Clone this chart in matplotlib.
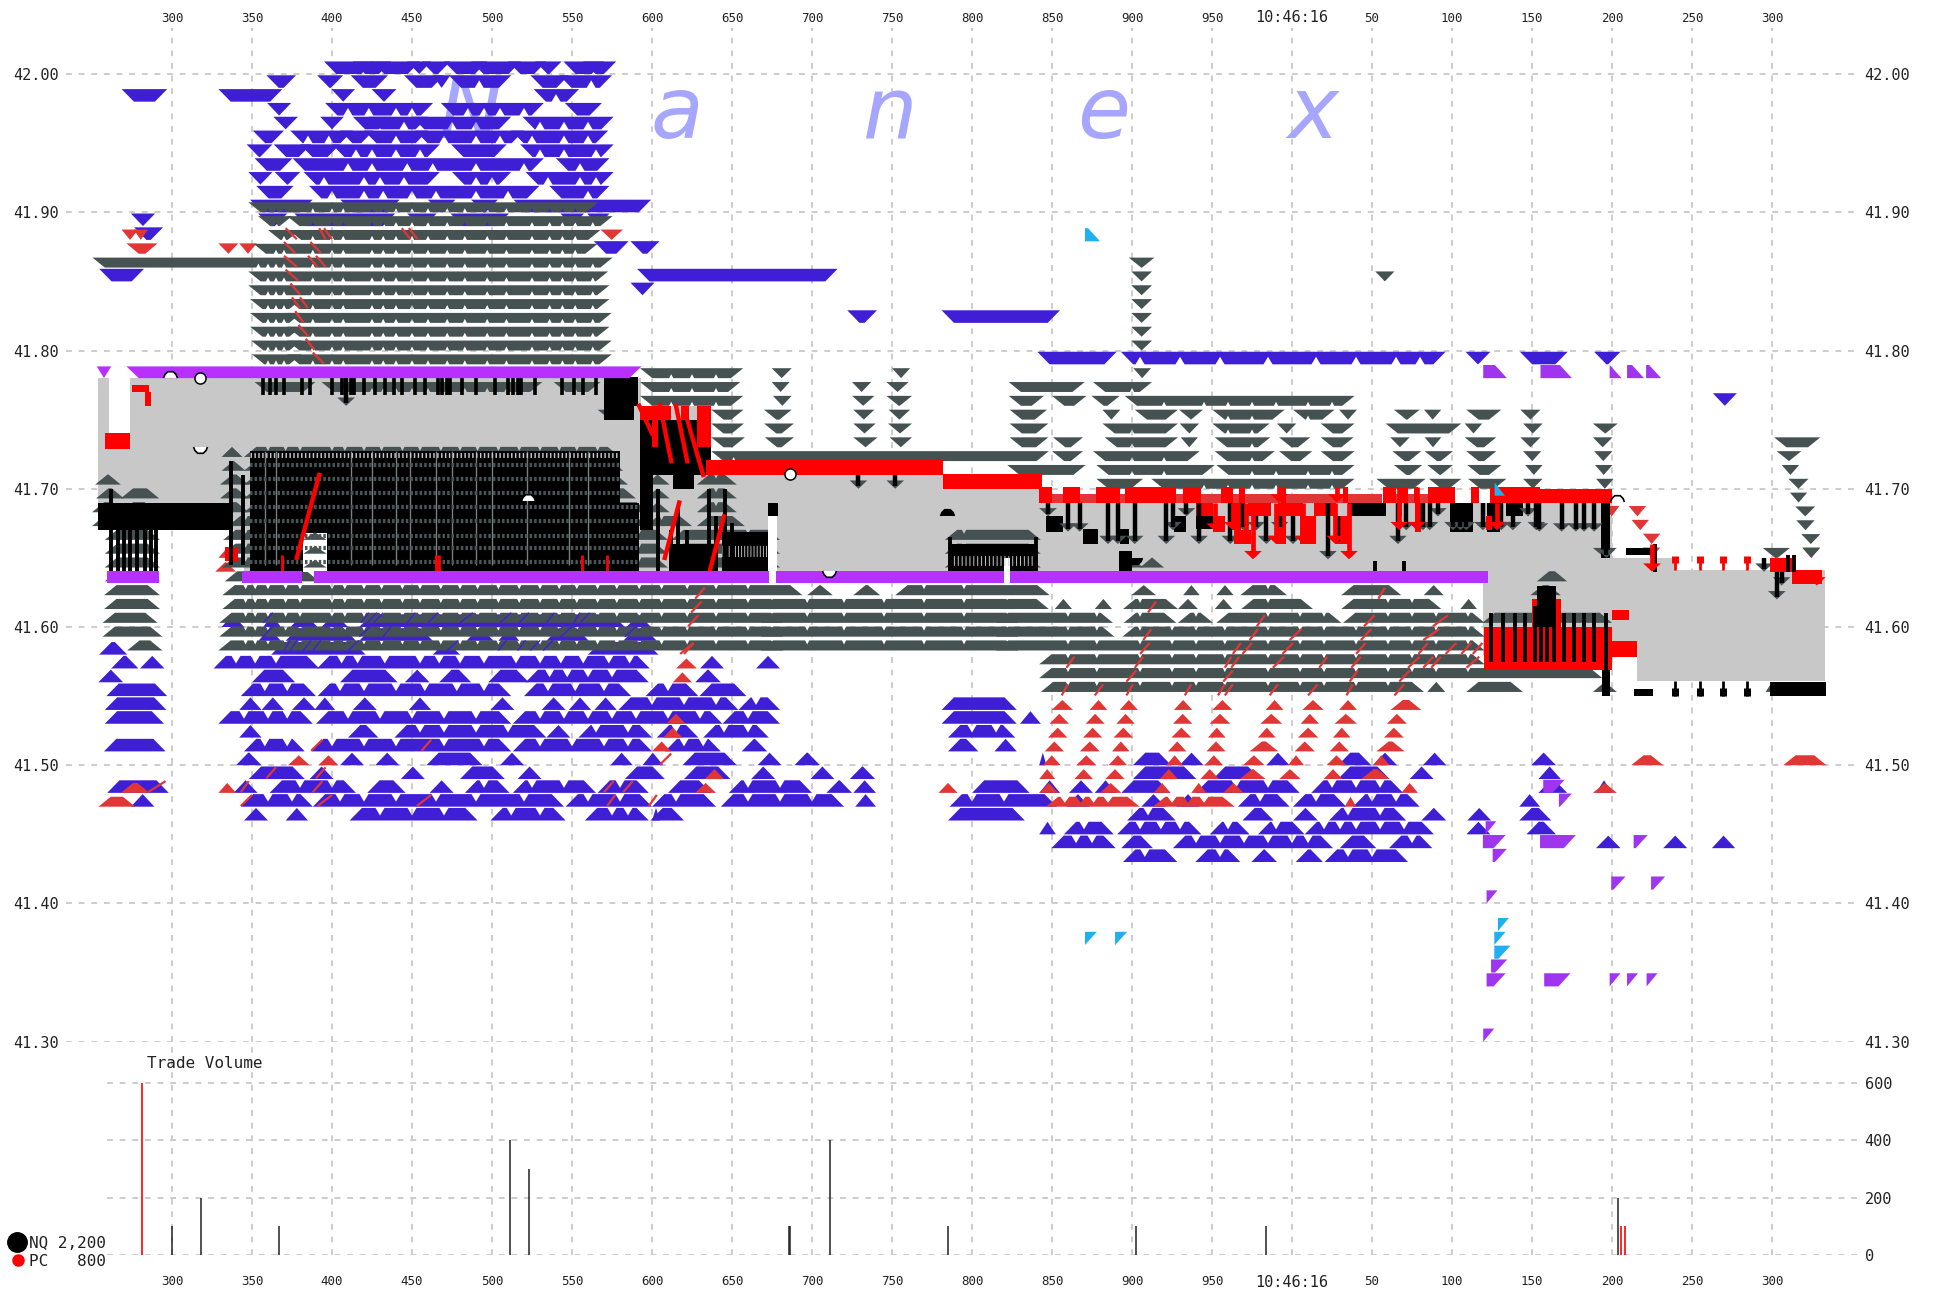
import matplotlib
matplotlib.use('Agg')
import matplotlib.pyplot as plt
from matplotlib.collections import PolyCollection
from matplotlib.patches import Rectangle

# Colors
BLUE = '#3f1fd6'
GREY = '#465252'
LRED = '#e03636'
RED = '#ff0000'
BAND = '#b830ff'
PURP = '#a035f0'
CYAN = '#20b0f0'
FILL = '#c8c8c8'
GRID = '#cccccc'
TXT = '#222222'
HW = 7.7

# Ticks
x_ticks = list(range(300, 1301, 50))
x_labels = ['300', '350', '400', '450', '500', '550', '600', '650', '700', '750', '800', '850', '900', '950',
            '10:46:16', '50', '100', '150', '200', '250', '300']
price_ticks = [41.30, 41.40, 41.50, 41.60, 41.70, 41.80, 41.90, 42.00]
vol_ticks = [0, 200, 400, 600]

# Trade volume
nq_x = [300, 318, 367, 511, 523, 685.5, 686.5, 711, 785, 902.5, 983.5, 1204]
nq_v = [100, 200, 100, 400, 300, 100, 100, 400, 100, 100, 100, 200]
pc_x = [281, 1205.8, 1207.9]
pc_v = [600, 100, 100]

# Bid/offer spread area
nbbo_x = [254, 345, 593, 634, 782, 844, 1119.5, 1200, 1215.7, 1239.6, 1333]
nbbo_ask = [41.78, 41.78, 41.76, 41.71, 41.70, 41.69, 41.69, 41.65, 41.65, 41.641, 41.641]
nbbo_bid = [41.67, 41.64, 41.64, 41.64, 41.64, 41.64, 41.58, 41.59, 41.561, 41.561, 41.561]

# Offer side triangles, price: outer extents in ms
blue_dn = {
    42.00: [(395, 426), (413, 437), (425, 455), (447, 462), (456, 474), (470, 497), (487, 518), (510, 534),
            (527, 543.5), (544.6, 570), (557, 577.6)],
    41.99: [(359, 377.5), (390.7, 407), (411.6, 435), (445, 470), (463, 474), (473, 512), (524, 548), (542, 575)],
    41.98: [(268.5, 297), (329, 369), (399.6, 414.4), (424.7, 440.3), (526, 554.4)],
    41.97: [(359.4, 374.5), (395.7, 463.2), (468, 532.4), (545.5, 568.7)],
    41.96: [(363.3, 378.7), (392.6, 407.4), (413, 437), (423, 460), (450, 512), (519, 576)],
    41.95: [(350.5, 370), (373.9, 413), (405, 426), (420, 460), (452, 520), (512, 572.6)],
    41.94: [(346.6, 362.8), (363.6, 387), (380, 405), (400, 467.4), (474.4, 509.2), (517.6, 576)],
    41.93: [(351.6, 375.3), (375.3, 532.4), (539.9, 573.4)],
    41.92: [(347.7, 362.8), (364.2, 380.1), (382.3, 467.4), (475, 512), (521, 576)],
    41.91: [(352.7, 376), (385.7, 529.6), (535.8, 573.4)],
    41.90: [(348.8, 387.9), (405.2, 442.3), (459.9, 477.2), (486.9, 503.7), (513.4, 599.4)],
    41.89: [(274.3, 289.4), (353.8, 372), (376.5, 439.5), (447, 465.4), (474, 510.6), (542.7, 557.5), (559.5, 573.4)],
    41.88: [(276.3, 294.4)],
    41.87: [(563.6, 585.4), (586.5, 604.7)],
    41.85: [(254.5, 282.5), (590.7, 716)],
    41.84: [(586.5, 601.6)],
    41.82: [(722, 740.6), (781, 855)],
    41.79: [(840.8, 890.4), (893, 1096), (1108.4, 1124), (1142.4, 1172.3), (1188.8, 1205.3)],
    41.76: [(1263, 1278)],
}
# White gaps seen along the tips of the blue rows
blue_dn_gaps = {
    42.00: [419, 432, 449, 465, 479, 492, 514, 530, 565],
    41.99: [425, 452, 460, 492, 534, 552, 562],
    41.98: [540],
    41.97: [410, 423, 440, 450, 458, 485, 495, 505, 520, 560],
    41.96: [430, 445, 475, 490, 505, 530, 545, 560],
    41.95: [385, 398, 440, 470, 490, 505, 525, 545, 560],
    41.94: [395, 415, 425, 440, 455, 480, 500, 530, 545, 565],
    41.93: [385, 410, 425, 447, 463, 490, 520, 555],
    41.92: [395, 420, 430, 445, 458, 490, 500, 535, 555, 565],
    41.91: [400, 420, 432, 450, 465, 490, 510, 560],
    41.79: [905, 930, 955, 985, 1015, 1040, 1065, 1080],
}
red_dn = {
    41.88: [(268.5, 279), (276, 285), (567.8, 581.8)],
    41.87: [(271.5, 291), (329, 341.5), (342, 353)],
    41.68: [(1195, 1204.6), (1210.4, 1221.3)],
    41.67: [(1212.2, 1223.1)],
    41.66: [(1219.3, 1230.2)],
    41.65: [(1219.3, 1230.2), (1319, 1330)],
}
grey_dn = {
    41.90: [(347.7, 566.4)],
    41.89: [(353.8, 375), (372, 575.4)],
    41.88: [(360, 380), (373, 567.8)],
    41.87: [(351, 566)],
    41.86: [(250.3, 575.4)],
    41.85: [(347.7, 572.6), (1052, 1064)],
    41.84: [(347.7, 573.4)],
    41.83: [(348.8, 381), (372, 573.4)],
    41.82: [(348.8, 381), (372, 574.8)],
    41.81: [(348.8, 381), (372, 573.4)],
    41.80: [(349.5, 381), (372, 574.8)],
    41.79: [(350, 381), (372, 574.8)],
    41.77: [(351.6, 389.7), (393.4, 531.5), (538.5, 567.8), (592.5, 655.2), (674.8, 686), (725, 737), (746.5, 760.4),
            (822.9, 870.4), (875.6, 912.5)],
    41.78: [(592.5, 657), (674.8, 687.3), (750, 761.3), (900.8, 911.9)],
    41.76: [(592.5, 657), (675.6, 687.3), (725, 739), (746.5, 762.5), (822.9, 845), (850, 871.5), (874.6, 892.3),
            (895.4, 1039.1)],
    41.75: [(566, 589), (637, 657.2), (670, 687.3), (725.8, 739), (747.9, 761.3), (823.5, 846.9), (881.5, 892.7),
            (901.7, 928.7), (929.4, 944.4), (950.2, 995.4), (1000.6, 1026.6), (1029.4, 1040.6), (1063.7, 1079.8),
            (1082.5, 1093.3), (1108.9, 1130.8), (1142.7, 1155.3)],
    41.74: [(637, 657.5), (670, 688.7), (725.8, 739.8), (747.5, 762.5), (823.5, 847.7), (881.5, 928.7), (929.8, 941.9),
            (950.2, 986), (990.6, 1002.7), (1017.9, 1039.1), (1058.5, 1105.8), (1107.9, 1118.9), (1144.4, 1156.6),
            (1188, 1203.6)],
    41.73: [(637, 658), (670.5, 688.7), (725.8, 741), (748.5, 762.5), (823.5, 847.7), (850.6, 869.4), (882.9, 928.7),
            (930.4, 941.2), (951.7, 986.4), (991.9, 1011.4), (1017.9, 1038.5), (1061.4, 1073.5), (1082.9, 1093.3),
            (1107.9, 1127.7), (1142.7, 1155.3), (1188, 1200.3), (1301.3, 1330.2)],
    41.72: [(637, 848), (850, 869.4), (875.6, 942.3), (951.7, 989.2), (991.9, 1012.7), (1017.9, 1039.1),
            (1062.7, 1080.8), (1082.9, 1100.6), (1108.9, 1127.7), (1144.4, 1155.8), (1188.8, 1200.3), (1302.9, 1318.3)],
    41.71: [(822, 871), (877.7, 951.7), (952.7, 1039.1), (1063.7, 1081.4), (1084.5, 1100.6), (1109.5, 1130.8),
            (1145.7, 1156.6), (1189.3, 1200.3), (1306, 1317)],
    41.70: [(877.7, 906.9), (912, 1039.1), (1052.7, 1083.5), (1085.6, 1105.8), (1110, 1134), (1144.4, 1156.6),
            (1190, 1201), (1310.2, 1322.8)],
    41.69: [(1311.2, 1322)],
    41.68: [(1314.5, 1327)],
    41.67: [(1315.2, 1326.6)],
    41.66: [(1318.3, 1330.2)],
    41.65: [(1294.2, 1311.2), (1319, 1330), (1188, 1203)],
}
# Column near 900 that stands above the quotes
for p in [41.86, 41.85, 41.84, 41.83, 41.82, 41.81, 41.80]:
    grey_dn.setdefault(p, []).append((898, 914) if p == 41.86 else (899.5, 912.5))

# Bid side triangles
grey_up = {
    41.72: [(331, 344), (345, 580)],
    41.71: [(331, 346), (345, 582)],
    41.70: [(252, 268), (330, 348), (345, 585), (596, 611), (628, 653)],
    41.69: [(252.5, 270), (268, 292), (330, 348), (345, 590), (596, 611), (628, 653)],
    41.68: [(250, 268), (268, 290.5), (330, 348), (345, 598), (596, 611), (628, 653)],
    41.67: [(250, 268), (258, 292), (335, 605), (596, 625), (628, 658)],
    41.66: [(258, 292.5), (332, 610), (612, 680), (783, 843)],
    41.65: [(258, 292.5), (332, 610), (612, 680), (783, 843)],
    41.64: [(258, 292.5), (331, 610), (612, 680), (783, 843), (892, 907), (905, 920)],
    41.63: [(258, 292.5), (333, 392), (1153, 1172)],
    41.62: [(257.6, 292.5), (331.5, 694), (697, 713), (725.8, 742.6), (752, 848.5), (899.6, 915), (931.9, 942.3),
            (952.7, 963.5), (967.7, 996.9), (1030.8, 1068.3), (1082.3, 1094.8), (1149, 1168)],
    41.61: [(257.6, 292.5), (331.5, 682), (668, 829), (815, 848), (851.7, 862.5), (876.7, 887.5), (894.4, 928.7),
            (928.7, 941.2), (951.7, 962.7), (968.3, 1013.1), (1030.8, 1093.3), (1105.2, 1115.6)],
    41.60: [(256.6, 291), (329.5, 682), (668, 829), (815, 888.1), (894.8, 927.7), (928.7, 950.6), (952.7, 1030.8),
            (1031.9, 1120.4), (1119, 1200)],
    41.59: [(256.6, 294), (329.5, 682), (668, 829), (815, 889), (894, 1120.4)],
    41.58: [(272, 294), (329, 682), (668, 829), (815, 1120.4)],
    41.57: [(842, 1120.4)],
    41.56: [(842, 1194)],
    41.55: [(843, 1082.5), (1084.5, 1095.8), (1108.9, 1144.3), (1188, 1203), (1296, 1304)],
}
blue_up = {
    41.60: [(331, 345), (357, 368), (374, 391), (393.4, 410), (417, 583), (584, 599.4)],
    41.59: [(354, 368), (371, 415), (417, 463), (484, 501), (504, 517), (534, 560.5), (582, 603)],
    41.58: [(254.5, 272), (362, 421), (463, 480), (560, 604)],
    41.57: [(262, 279), (280, 295.3), (326, 392), (390.7, 598.6), (630, 645), (665, 680)],
    41.56: [(254, 269.5), (350, 377), (405, 441), (445.5, 461), (467, 487), (497.6, 523), (521, 598), (627, 643)],
    41.55: [(259, 297), (343, 390), (391, 512), (520, 587), (596, 629), (629.6, 659)],
    41.54: [(258, 296.5), (342, 356), (356, 370), (375, 390), (389, 402), (413, 428), (448, 462), (499, 514), (531, 546),
            (548, 562), (564, 578), (579, 654), (654, 680), (781, 828)],
    41.53: [(258, 295), (329, 388), (390, 512), (513, 644), (644, 680), (781, 828), (830, 843)],
    41.52: [(342, 356), (410, 429), (439, 534), (534, 549), (554, 600), (603, 629), (632, 673), (785, 827)],
    41.51: [(257.5, 296), (345, 383), (387, 512), (513, 600), (608, 643), (656, 672), (785, 804), (814, 828)],
    41.50: [(340, 356), (405, 420), (427, 442), (459, 494), (505, 520), (574, 588), (594, 607), (619, 653), (666, 681),
            (689, 705), (842, 846.5), (900.6, 924.5), (929.7, 944.7), (984, 998.4), (1028.7, 1049.5), (1050.6, 1065.6),
            (1081.8, 1096.4), (1149.5, 1165)],
    41.49: [(348, 383), (386, 401), (443, 458), (480, 508), (516, 531), (583, 608), (620, 649), (662, 677), (699, 714),
            (723.6, 739.5), (900.6, 940.2), (950.6, 980.2), (1028.7, 1061), (1073.5, 1088.5), (1154, 1168)],
    41.48: [(259.5, 298), (338.5, 353.5), (361, 415), (422, 446), (461, 476), (483, 511), (513, 565), (566, 598),
            (610, 637), (648, 700), (709, 725), (725.8, 740), (800, 836), (842, 855), (860.6, 875.6), (876.7, 890.2),
            (893.3, 924), (939.8, 1004.8), (1012, 1069.4), (1154, 1172)],
    41.47: [(274.3, 289), (343, 388), (388, 545), (546, 600), (600, 640), (643, 720), (727, 740), (786, 853),
            (858.9, 873.5), (905.8, 921), (927.7, 942.3), (966.2, 998.5), (1000.6, 1033.9), (1038.1, 1079.8),
            (1142, 1155)],
    41.46: [(345, 360), (371, 385), (411, 491), (499, 546), (558, 598), (599, 620), (600, 605), (785, 833),
            (896.9, 927.3), (969, 988.5), (1000.6, 1016.2), (1023.1, 1071.4), (1080.8, 1096.4), (1109.5, 1124.5),
            (1142, 1162)],
    41.45: [(842, 852.4), (857.4, 888.6), (890.7, 943.4), (948.6, 973.5), (978.7, 1007.9), (1007.9, 1088.7),
            (1109, 1124), (1146.5, 1165)],
    41.44: [(849.6, 889.8), (893.3, 913.1), (925.6, 1025.6), (1029.8, 1052.7), (1060.6, 1087.7), (1190, 1205.3),
            (1232, 1247), (1262.4, 1277)],
    41.43: [(894.4, 928.3), (939.6, 967.7), (974.6, 990.6), (1002.3, 1019.3), (1020.4, 1072.5)],
}
blue_up[41.48].append((1190, 1200))
blue_up_gaps = {
    41.57: [340, 352, 365, 399, 406, 416, 433, 455, 467, 480, 495, 515, 530, 543, 557, 573, 586],
    41.56: [536, 547, 560, 575],
    41.55: [358, 372, 405, 420, 440, 458, 478, 495, 535, 552, 570, 610],
    41.54: [600, 620, 640, 665],
    41.53: [345, 360, 372, 410, 430, 450, 470, 490, 530, 545, 560, 575, 590, 610, 630, 660],
    41.52: [455, 470, 490, 510, 525, 565, 585, 615, 645, 660, 800, 815],
    41.51: [358, 372, 400, 420, 440, 470, 495, 530, 550, 570, 585, 620, 632],
    41.48: [380, 400, 495, 525, 545, 580, 660, 680, 950, 965, 985, 1025, 1040, 1055],
    41.47: [360, 375, 405, 420, 440, 465, 490, 520, 560, 580, 615, 660, 680, 700, 800, 820, 980, 1015, 1050, 1065],
    41.46: [430, 450, 470, 512, 530, 575, 585, 910, 1035, 1055],
    41.45: [870, 905, 918, 930, 960, 990, 1020, 1030, 1040, 1055, 1070],
    41.44: [865, 875, 940, 955, 970, 985, 1000, 1010, 1040, 1075],
    41.43: [908, 955, 1035, 1050],
}
red_up = {
    41.65: [(329, 340)],
    41.64: [(327, 340)],
    41.57: [(615, 628)],
    41.56: [(613, 625)],
    41.54: [(849.8, 863.1), (873.5, 884.6), (892.3, 903.7), (926.2, 937.7), (950.2, 962.7), (983.5, 994.7),
            (1006.4, 1019.8), (1029.4, 1040.6), (1061.6, 1080.8)],
    41.53: [(848.5, 860.6), (871, 882.9), (890.2, 901.7), (925.6, 937.7), (948.5, 961.4), (980.2, 993.9),
            (1005.4, 1016.9), (1026.6, 1040.6), (1059.3, 1071.8), (609, 621)],
    41.52: [(847.5, 859.6), (869.4, 881.4), (888.5, 900.6), (924.6, 937.1), (947.5, 958.5), (978.7, 989.8),
            (1003.7, 1016.4), (1025.6, 1036.6), (1057.5, 1069.8), (607, 619)],
    41.51: [(845.4, 857.5), (867.4, 879.9), (887.5, 898.5), (922.5, 934), (946.5, 958.5), (973.5, 991.4),
            (1001.6, 1014.3), (1023.5, 1035.6), (1052.7, 1070.4), (600, 612)],
    41.50: [(844.3, 855.4), (865.2, 877.7), (885.4, 896.9), (921.4, 931.9), (945.4, 956.9), (969.4, 982.9),
            (997.5, 1007.5), (1021.6, 1034), (1050.6, 1061), (372.5, 386), (391.5, 404), (1212, 1232), (1307, 1334)],
    41.49: [(842, 852), (864, 875.6), (883.3, 895.4), (917.3, 928.7), (942.7, 954.4), (967.3, 983.5), (992, 1005.4),
            (1019.8, 1031.5), (1043.3, 1061), (633, 645)],
    41.48: [(268, 286), (329, 340), (779, 791), (842, 854), (880, 893.3), (913.6, 924), (937, 946.4), (956.9, 969.8),
            (1068.3, 1078.7), (627, 640), (1188, 1203)],
    41.47: [(254, 277), (846.2, 904.8), (913.1, 964.2), (1032.9, 1040.2)],
}
red_up_gaps = {41.47: [858, 868, 876, 885, 895, 925, 935, 945, 955]}

# Right angle triangles
purple_flag = [(41.45, 1121, 1127.7), (41.44, 1119.3, 1133.5), (41.44, 1155, 1177.4), (41.44, 1213.5, 1222.3),
               (41.43, 1125.4, 1134.3), (41.41, 1199.5, 1208.4), (41.41, 1224.4, 1233.2), (41.40, 1121.6, 1128.4),
               (41.35, 1124.4, 1134.5), (41.34, 1121.6, 1133.5), (41.34, 1157.6, 1174), (41.34, 1198.5, 1205.3),
               (41.34, 1209.4, 1216.2), (41.34, 1221.6, 1228.4), (41.30, 1119.5, 1126.4), (41.48, 1157, 1170.3),
               (41.47, 1166.8, 1174.9)]
cyan_flag = [(41.38, 1128.7, 1135.5), (41.37, 1126.4, 1133.5), (41.36, 1126.4, 1136.5), (41.37, 870.6, 878),
             (41.37, 889.4, 897)]
purple_up = [(41.78, 1119.5, 1134.3), (41.78, 1155.3, 1174.9), (41.78, 1198.5, 1206), (41.78, 1209.4, 1220),
             (41.78, 1221.3, 1230.7)]
cyan_up = [(41.879, 870.6, 880), (41.695, 1126.6, 1133)]

# Thin slanted trades across the rows: price, x at bottom, x at top
red_slash = [(41.88, 378, 371), (41.88, 396, 392), (41.88, 400, 395), (41.88, 449, 443.6), (41.88, 453.5, 448),
             (41.87, 377, 370), (41.87, 393, 386.5), (41.86, 378, 370), (41.86, 391, 385), (41.86, 396, 390),
             (41.85, 379, 371), (41.84, 380, 374), (41.83, 380, 375), (41.83, 385, 380), (41.82, 382, 377),
             (41.81, 385, 379), (41.80, 389, 383.6), (41.79, 395, 388),
             (41.62, 627, 633), (41.61, 624.5, 631), (41.60, 622.6, 629), (41.58, 617.6, 626), (41.58, 620, 626),
             (41.62, 1054, 1058), (41.61, 910, 915), (41.60, 978, 983), (41.60, 1045, 1051.6), (41.60, 1088, 1097.5),
             (41.59, 907, 912), (41.59, 973.5, 978.7), (41.59, 998.5, 1005.8), (41.59, 1043, 1049.5),
             (41.59, 1082, 1092), (41.58, 905, 911), (41.58, 963, 968), (41.58, 969, 975), (41.58, 994, 1000.6),
             (41.58, 1040, 1046), (41.58, 1079, 1085), (41.58, 1096, 1102.7), (41.58, 1105.8, 1112), (41.58, 1113, 1119),
             (41.57, 859, 864), (41.57, 901.7, 907), (41.57, 958, 962), (41.57, 962, 967), (41.57, 988, 995),
             (41.57, 1017, 1022), (41.57, 1037, 1043), (41.57, 1072.5, 1079.8), (41.57, 1082, 1088.3), (41.57, 1087, 1093),
             (41.57, 1109, 1117), (41.56, 896.5, 902.7), (41.56, 957, 963), (41.56, 1036, 1041.2), (41.56, 1067, 1073.5),
             (41.55, 856, 860), (41.55, 876.7, 882), (41.55, 896.5, 900.6), (41.55, 933, 937), (41.55, 953.7, 958),
             (41.55, 958, 963), (41.55, 986, 991.2), (41.55, 1010, 1016), (41.55, 1034, 1038), (41.55, 1064, 1070),
             (41.51, 387, 394), (41.51, 456, 462), (41.50, 605, 612), (41.49, 359, 365), (41.49, 390, 396),
             (41.48, 285, 296), (41.48, 343, 348), (41.48, 388, 394), (41.48, 570, 576), (41.48, 582, 588),
             (41.47, 343, 350), (41.47, 391, 400), (41.47, 453, 462), (41.47, 572, 577), (41.47, 598, 603)]
blue_slash = [(41.60, 357, 363), (41.60, 418, 423), (41.60, 422, 428), (41.60, 426, 432), (41.60, 447, 452),
              (41.60, 460, 466), (41.60, 480, 488), (41.60, 505, 512), (41.60, 517, 523), (41.60, 534, 539),
              (41.60, 551, 555), (41.60, 555, 561), (41.59, 357, 363), (41.59, 417, 424), (41.59, 432, 437),
              (41.59, 543, 550), (41.59, 583, 590), (41.58, 370, 374), (41.58, 374, 378), (41.58, 382, 387),
              (41.58, 388, 393), (41.58, 410, 417), (41.58, 472, 479), (41.58, 504, 509), (41.58, 516, 521),
              (41.58, 524, 530), (41.58, 532, 538)]

# Small gaps along the tips of long grey runs
notch_dn = [354, 360, 365, 370, 388, 400, 407, 425, 432, 440, 450, 460, 472, 483, 497, 509, 525, 536, 544, 552, 563,
            600, 612, 625, 640, 651, 900, 920, 945, 960, 975, 990, 1010, 1025]
notch_up = [338, 346, 352, 360, 371, 380, 400, 408, 420, 431, 444, 455, 468, 480, 491, 504, 517, 530, 542, 553, 566,
            578, 592, 606, 622, 640, 660, 697, 720, 745, 770, 795, 860, 878, 905, 925, 940, 958, 985, 1005, 1020,
            1040, 1060, 1075, 1090, 1110]

# Black size stacks drawn over the spread: x0, x1, p0, p1
black_box = [(254, 338, 41.67, 41.69), (349, 580, 41.64, 41.727), (580, 592, 41.64, 41.69), (569.7, 591.5, 41.76, 41.781),
             (570, 589, 41.75, 41.76), (592.5, 637, 41.71, 41.75), (592.5, 600.8, 41.67, 41.71), (613, 626, 41.70, 41.71),
             (610.6, 640, 41.64, 41.66), (644, 672.8, 41.64, 41.669), (672.8, 679, 41.68, 41.69),
             (786, 840, 41.64, 41.66), (846.5, 856.9, 41.669, 41.68), (869.4, 878.7, 41.66, 41.671),
             (892.3, 898, 41.66, 41.671), (926, 934, 41.669, 41.68), (940, 950.6, 41.671, 41.68),
             (1035, 1059, 41.68, 41.69), (1098.5, 1113, 41.669, 41.69), (1122, 1130, 41.669, 41.69),
             (1134, 1144.5, 41.68, 41.69), (1193, 1199, 41.65, 41.69), (1208.6, 1225.6, 41.652, 41.657),
             (1153.3, 1164.7, 41.60, 41.63), (1194, 1199, 41.55, 41.60), (1214, 1225.6, 41.55, 41.555),
             (1298.5, 1334, 41.55, 41.56), (892, 900, 41.64, 41.655)]
red_box = [(258, 273.7, 41.729, 41.7405), (275, 285.4, 41.77, 41.775), (283, 287, 41.76, 41.77), (333, 341, 41.648, 41.658),
           (634, 782, 41.71, 41.7208), (782, 844, 41.70, 41.7105), (842, 850, 41.69, 41.7015), (856.9, 867.3, 41.69, 41.7015),
           (877.7, 892.3, 41.69, 41.7015), (895.4, 927.3, 41.69, 41.7015), (931.9, 943.3, 41.69, 41.7015),
           (955.8, 963, 41.69, 41.7015), (966.9, 970.4, 41.69, 41.7015), (993, 996.4, 41.69, 41.7015),
           (1031.8, 1035, 41.69, 41.7015), (1056.8, 1065.1, 41.69, 41.7015), (1066.8, 1072.5, 41.69, 41.7015),
           (1076, 1078.7, 41.69, 41.7015), (1085, 1101.6, 41.69, 41.7015), (1112, 1117, 41.69, 41.7015),
           (1123.5, 1155, 41.69, 41.7015), (1155, 1172, 41.69, 41.7), (1172, 1200, 41.69, 41.7),
           (940, 950.6, 41.68, 41.69), (972.5, 987, 41.68, 41.69), (991, 1007, 41.68, 41.69), (1014, 1027.7, 41.68, 41.69),
           (950.6, 957.9, 41.669, 41.68), (961, 968.3, 41.67, 41.69), (964, 974.6, 41.66, 41.67),
           (990, 996.4, 41.66, 41.68), (1004.8, 1015.2, 41.66, 41.68), (1026.6, 1035, 41.66, 41.68),
           (1076.6, 1080.8, 41.669, 41.69), (1066, 1069, 41.68, 41.69), (1121.4, 1125, 41.67, 41.68),
           (1120, 1200, 41.569, 41.60), (1197.7, 1215.5, 41.578, 41.59), (1150, 1153.3, 41.60, 41.62),
           (1164.7, 1168, 41.60, 41.62), (1200, 1210.4, 41.605, 41.612), (1298.5, 1314, 41.64, 41.65),
           (1312.7, 1331, 41.631, 41.641), (592.5, 612, 41.75, 41.76), (618, 623, 41.75, 41.76), (628, 637, 41.73, 41.76),
           (600, 604, 41.73, 41.75)]
lred_box = [(850, 1035, 41.69, 41.696), (1035, 1056, 41.69, 41.696), (1059, 1085, 41.69, 41.696)]
white_box = [(260.4, 273.5, 41.735, 41.792), (672.8, 678.4, 41.64, 41.68), (820, 824, 41.64, 41.65),
             (382, 396.7, 41.64, 41.668)]

# Arrows: x, price at top, price at tip
black_arrow = [(847.5, 41.69, 41.68), (860, 41.69, 41.669), (867.3, 41.69, 41.669), (885, 41.69, 41.66), (891.2, 41.69, 41.66),
               (901.7, 41.69, 41.66), (921.4, 41.69, 41.66), (925.6, 41.69, 41.67), (934, 41.69, 41.68), (941.9, 41.69, 41.66),
               (961.4, 41.69, 41.66), (969.4, 41.69, 41.67), (977.7, 41.68, 41.67), (984, 41.68, 41.66), (992.3, 41.68, 41.67),
               (1000.6, 41.68, 41.66), (1022.5, 41.69, 41.649), (1028.7, 41.68, 41.66), (1066.2, 41.69, 41.66),
               (1071.4, 41.69, 41.67), (1081.8, 41.69, 41.67), (1086, 41.69, 41.67), (1091.2, 41.69, 41.68),
               (1100.6, 41.69, 41.67), (1105.2, 41.69, 41.67), (1108.9, 41.69, 41.67), (1119.3, 41.69, 41.67),
               (1130.8, 41.69, 41.67), (1138, 41.69, 41.67), (1147.5, 41.69, 41.68), (1152.7, 41.69, 41.67),
               (1154.6, 41.69, 41.669), (1168.5, 41.69, 41.669), (1177.4, 41.69, 41.669), (1182.5, 41.69, 41.669),
               (1188.8, 41.69, 41.669), (729, 41.71, 41.70), (752, 41.71, 41.70), (408.8, 41.78, 41.76),
               (1295, 41.65, 41.64), (1303, 41.64, 41.62), (1306, 41.64, 41.63), (1196.5, 41.69, 41.65)]
red_arrow = [(975.6, 41.69, 41.649), (1035.6, 41.69, 41.649), (971, 41.69, 41.66), (963, 41.69, 41.67), (952, 41.69, 41.669),
             (992, 41.7015, 41.69), (1028, 41.7015, 41.69), (1078, 41.7015, 41.67), (990, 41.69, 41.66), (1007, 41.69, 41.66),
             (1027, 41.69, 41.66), (1067, 41.7015, 41.67), (1128, 41.69, 41.67), (1225, 41.66, 41.64), (1328, 41.64, 41.63)]
red_tick = [1239.6, 1254.8, 1269.5, 1284.5]
stem_ms = [357, 361, 365, 370, 381, 386, 400, 406, 409, 412, 414, 420, 427, 433, 439, 444, 452, 458, 466, 469, 472,
           474, 481, 490, 502, 510, 513, 516, 518, 527, 544, 551, 557, 565]

# Upright black stacks: x, price at bottom, price at top
up_stems = [(262, 41.64, 41.70), (266, 41.64, 41.69), (270, 41.64, 41.68), (274, 41.64, 41.68), (278, 41.64, 41.68),
            (283, 41.64, 41.68), (287, 41.64, 41.68), (290, 41.64, 41.67), (337, 41.645, 41.72), (344.6, 41.645, 41.71),
            (603.6, 41.64, 41.70), (612, 41.64, 41.67), (616, 41.64, 41.685), (622, 41.64, 41.67), (635.7, 41.64, 41.70),
            (640, 41.64, 41.68), (645.5, 41.64, 41.70), (650, 41.64, 41.675), (786, 41.64, 41.665), (840, 41.64, 41.665),
            (1124.1, 41.575, 41.61), (1131.7, 41.575, 41.61), (1139.3, 41.575, 41.61), (1145.7, 41.575, 41.61),
            (1152, 41.575, 41.615), (1155.8, 41.575, 41.615), (1159.6, 41.575, 41.615), (1163.5, 41.575, 41.615),
            (1169.8, 41.575, 41.61), (1176, 41.575, 41.61), (1182.5, 41.575, 41.61), (1188.8, 41.575, 41.61),
            (1196.4, 41.56, 41.61), (1227, 41.64, 41.66), (1052, 41.64, 41.648), (1070, 41.64, 41.648),
            (1310, 41.652, 41.64), (1314, 41.652, 41.64)]
gap_ms = [425, 449, 465, 475, 490, 500, 522, 548, 412, 365, 358, 440, 560]

# Bright red trades sweeping through the stacks: x0, p0, x1, p1
red_sweep = [(378, 41.65, 392, 41.71), (608, 41.65, 617, 41.69), (636, 41.64, 645, 41.68), (605, 41.76, 612, 41.72),
             (615, 41.76, 622, 41.72), (622, 41.75, 632, 41.71), (592, 41.76, 600, 41.74)]
red_spike = [369, 465, 467, 556, 572]

# Open and filled quote change marks: x, price
white_dome = [(299, 41.783), (522.5, 41.694), (1203, 41.693)]
white_bowl = [(317.5, 41.728), (710.5, 41.638)]
white_dot = [(317.5, 41.78), (686, 41.711)]
black_dome = [(784.4, 41.683)]
black_bowl = [(901.6, 41.648)]

# Watermark
mark_letters = ['N', 'a', 'n', 'e', 'x']
mark_x = [487, 615.6, 748.8, 882.5, 1013]

fig = plt.figure(figsize=(19.38, 12.91), dpi=100, facecolor='white')
W, H = 1938.0, 1291.0
ax = fig.add_axes([66 / W, 1 - 1041.7 / H, (1857 - 66) / W, (1041.7 - 28) / H])
av = fig.add_axes([66 / W, 1 - 1255 / H, (1857 - 66) / W, (1255 - 1041.7) / H])
ax.set_xlim(233.75, 1353.1)
ax.set_ylim(41.30, 42.0333)
av.set_xlim(233.75, 1353.1)
av.set_ylim(0, 742)
for a in (ax, av):
    for s in a.spines.values():
        s.set_visible(False)
    a.set_axisbelow(True)
    a.grid(axis='x', color=GRID, lw=1.4, ls=(0, (3, 3.5)))
ax.grid(axis='y', color=GRID, lw=1.4, ls=(0, (3, 3.5)))
av.hlines(vol_ticks, 259.4, 1353.1, color=GRID, lw=1.4, ls=(0, (3, 3.5)), zorder=0.5)


def run_poly(p, a, b, up, lo, hi, small=(), large=()):
    # one run of overlapping triangles as a single polygon, gaps cut into the tip side
    hw = min(HW, (b - a) / 2.0)
    y0, y1 = p + lo, p + hi
    tip = y1 if up else y0
    sign = -1 if up else 1
    gaps = [(n, 1.3, 0.4) for n in small if a + hw + 1.5 < n < b - hw - 1.5]
    gaps += [(n, 2.8, 0.6) for n in large if a + hw + 3 < n < b - hw - 3]
    v = [(a, y0), (b, y0), (b - hw, y1)] if up else [(a, y1), (b, y1), (b - hw, y0)]
    for n, w, d in sorted(gaps, reverse=True):
        v += [(n + w, tip), (n, tip + sign * (hi - lo) * d), (n - w, tip)]
    v += [(a + hw, tip)]
    return v


def add_rows(rows, color, up, lo, hi, small=(), row_gaps=None, z=3):
    row_gaps = row_gaps or {}
    polys = []
    for p, runs in rows.items():
        for a, b in runs:
            polys.append(run_poly(p, a, b, up, lo, hi, small, row_gaps.get(p, ())))
    ax.add_collection(PolyCollection(polys, facecolors=color, edgecolors='none', zorder=z))


def add_flags(flags, color, up, z=5):
    polys = []
    for p, a, b in flags:
        s = min(7.5, b - a)
        if up:
            polys.append([(a, p), (b, p), (b - s, p + 0.0095), (a, p + 0.0095)])
        else:
            polys.append([(a, p + 0.0095), (b, p + 0.0095), (b - s, p), (a, p)])
    ax.add_collection(PolyCollection(polys, facecolors=color, edgecolors='none', zorder=z))


def add_boxes(boxes, color, z):
    for x0, x1, p0, p1 in boxes:
        ax.add_patch(Rectangle((x0, p0), x1 - x0, p1 - p0, fc=color, ec='none', zorder=z))


# Watermark under everything
for ch, x in zip(mark_letters, mark_x):
    ax.text(x, 41.9537, ch, fontsize=62, style='italic', family='DejaVu Sans', color='#a6a6ff', ha='center',
            va='baseline', zorder=1)

ax.fill_between(nbbo_x, nbbo_bid, nbbo_ask, step='post', color=FILL, lw=0, zorder=1.5)
add_boxes(white_box[:1], 'white', 1.6)

add_rows(blue_dn, BLUE, False, 0.0, 0.0091, row_gaps=blue_dn_gaps, z=2)
add_rows(blue_up, BLUE, True, 0.0, 0.0091, row_gaps=blue_up_gaps, z=2)
add_rows(red_dn, LRED, False, 0.0, 0.0075, z=2.5)
add_rows(red_up, LRED, True, 0.0, 0.0072, row_gaps=red_up_gaps, z=2.8)
add_rows(grey_dn, GREY, False, 0.0, 0.0072, notch_dn, z=3)
add_rows(grey_up, GREY, True, 0.003, 0.0103, notch_up, z=3)

add_flags(purple_flag, PURP, False)
add_flags(cyan_flag, CYAN, False)
add_flags(purple_up, PURP, True)
add_flags(cyan_up, CYAN, True)

for p, xb, xt in red_slash:
    ax.plot([xb, xt], [p + 0.0005, p + 0.0085], color=LRED, lw=1.6, solid_capstyle='butt', zorder=3.2)
for p, xb, xt in blue_slash:
    ax.plot([xb, xt], [p + 0.003, p + 0.0103], color=BLUE, lw=1.0, solid_capstyle='butt', zorder=3.2)

# Black stacks
add_boxes(black_box, 'black', 3.5)
add_boxes(white_box[1:], 'white', 3.6)
grey_over = {41.64: [(382, 396.7)], 41.65: [(382, 396.7)], 41.66: [(382, 396.7)]}
add_rows(grey_over, GREY, True, 0.003, 0.0085, z=3.7)
ax.vlines(gap_ms, 41.645, 41.727, color='#777f7f', lw=1.0, zorder=3.8)
for p in [41.717, 41.707, 41.697, 41.687, 41.677, 41.666, 41.657, 41.647]:
    ax.hlines(p, 349, 580 if p > 41.69 else 592, color='#4a5555', lw=3.0, ls=(0, (0.6, 0.5)), zorder=3.9)
ax.hlines(41.7245, 349, 578, color=FILL, lw=3.5, ls=(0, (0.3, 0.5)), zorder=3.9)
ax.hlines(41.655, 644, 672.8, color=FILL, lw=8, ls=(0, (0.08, 0.2)), zorder=3.9)
ax.hlines(41.648, 786, 840, color=FILL, lw=7, ls=(0, (0.1, 0.3)), zorder=3.9)

# Stems below the offer band
ax.vlines(stem_ms, 41.768, 41.78, color='black', lw=2.6, zorder=4)
for x, lo_p, hi_p in up_stems:
    ax.vlines(x, lo_p, hi_p, color='black', lw=2.8, zorder=4.3)
add_boxes(red_box, RED, 4.2)
add_boxes(lred_box, LRED, 4.1)
for x, top, tip in black_arrow:
    ax.vlines(x, tip + 0.002, top, color='black', lw=3.2, zorder=4.4)
    ax.add_collection(PolyCollection([run_poly(tip, x - 5.5, x + 5.5, False, 0.0, 0.006)], facecolors=GREY,
                                     edgecolors='none', zorder=4.1))
for x, top, tip in red_arrow:
    ax.vlines(x, tip + 0.002, top, color=RED, lw=3.4, zorder=4.5)
    ax.add_collection(PolyCollection([run_poly(tip, x - 5.5, x + 5.5, False, 0.0, 0.006)], facecolors=RED,
                                     edgecolors='none', zorder=4.5))

for x0, p0, x1, p1 in red_sweep:
    ax.plot([x0, x1], [p0, p1], color=RED, lw=3.2, zorder=4.6)
ax.vlines(red_spike, 41.64, 41.652, color=RED, lw=2.0, zorder=4.6)

# Purple quote bands
ax.add_collection(PolyCollection([run_poly(41.78, 253, 262, False, 0.0, 0.0085), run_poly(41.78, 271.5, 593.5, False, 0.0, 0.0085)],
                                 facecolors=BAND, edgecolors='none', zorder=4))
for a, b in [(259.6, 291.7), (343.8, 381), (388.7, 673), (677.6, 819.9), (824, 1122.5)]:
    ax.add_patch(Rectangle((a, 41.632), b - a, 0.0088, fc=BAND, ec='none', zorder=4.7))
ax.vlines(red_tick, 41.641, 41.65, color=RED, lw=2.0, zorder=5)
ax.vlines(red_tick, 41.646, 41.651, color=RED, lw=5, zorder=5)
ax.vlines(red_tick, 41.55, 41.561, color='black', lw=2.0, zorder=5)
ax.vlines(red_tick, 41.55, 41.556, color='black', lw=5, zorder=5)

# Quote change marks
dome = [(-1, -0.5), (-0.8, 0.0), (-0.4, 0.4), (0.4, 0.4), (0.8, 0.0), (1, -0.5)]
bowl = [(x, -y) for x, y in dome]
for pts, mk, fc in [(white_dome, dome, 'white'), (white_bowl, bowl, 'white'), (black_dome, dome, 'black'),
                    (black_bowl, bowl, 'black')]:
    ax.plot([q[0] for q in pts], [q[1] for q in pts], ls='none', marker=mk, ms=10, mfc=fc, mec='black', mew=1.2, zorder=6)
ax.plot([q[0] for q in white_dot], [q[1] for q in white_dot], ls='none', marker='o', ms=8, mfc='white', mec='black',
        mew=1.1, zorder=6)

# Volume panel
av.vlines(nq_x, 0, nq_v, color='#222222', lw=1.1, zorder=3)
av.vlines(pc_x, 0, pc_v, color=RED, lw=1.2, zorder=3)

# Axis text
ax.set_xticks(x_ticks)
ax.set_xticklabels(x_labels, family='DejaVu Sans Mono', fontsize=9, color=TXT)
ax.xaxis.tick_top()
ax.set_yticks(price_ticks)
ax.set_yticklabels(['%.2f' % v for v in price_ticks], family='DejaVu Sans Mono', fontsize=11, color=TXT)
ax.tick_params(axis='x', length=0, pad=1.8)
ax.tick_params(axis='y', length=0, pad=5.5, labelleft=True, labelright=True)
ax.get_xticklabels()[14].set_fontsize(11)
av.set_xticks(x_ticks)
av.set_xticklabels(x_labels, family='DejaVu Sans Mono', fontsize=9, color=TXT)
av.get_xticklabels()[14].set_fontsize(11)
av.set_yticks(vol_ticks)
av.set_yticklabels([str(v) for v in vol_ticks], family='DejaVu Sans Mono', fontsize=11, color=TXT)
av.yaxis.tick_right()
av.tick_params(axis='x', length=0, pad=14.5)
av.tick_params(axis='y', length=0, pad=5.5)

mono = dict(family='DejaVu Sans Mono', fontsize=11.5, color=TXT, va='center')
fig.text(147 / W, 1 - 1063 / H, 'Trade Volume', **mono)
fig.text(29 / W, 1 - 1243 / H, 'NQ 2,200', **mono)
fig.text(29 / W, 1 - 1262 / H, 'PC   800', **mono)
fig.add_artist(plt.Line2D([17 / W], [1 - 1242 / H], marker='o', ms=14, color='black', ls='none'))
fig.add_artist(plt.Line2D([18 / W], [1 - 1260 / H], marker='o', ms=8, color=RED, ls='none'))

fig.savefig('out.png', dpi=100)
